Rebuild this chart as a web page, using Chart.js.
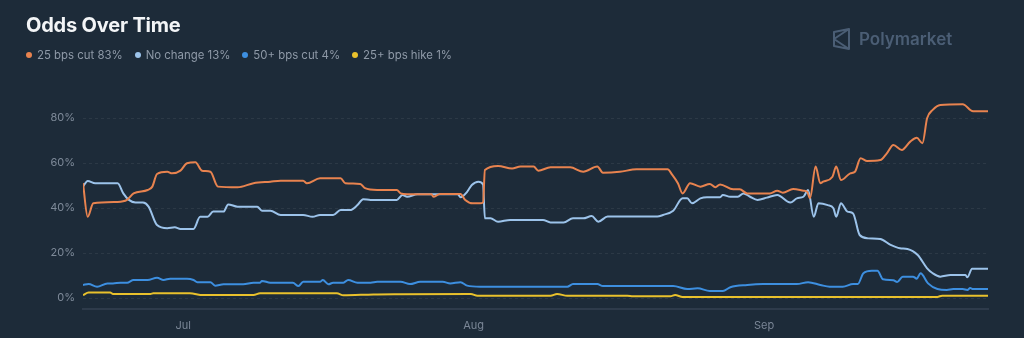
<!DOCTYPE html>
<html>
<head>
<meta charset="utf-8">
<script src="https://cdn.jsdelivr.net/npm/chart.js@4.4.1/dist/chart.umd.min.js"></script>
<style>
  body { margin: 0; background: #1d2b39; }
  #wrap { position: relative; width: 1024px; height: 338px; overflow: hidden; font-family: Inter, "Noto Sans", sans-serif; }
  #oddsChart { position: absolute; left: 0; top: 0; }
  .title { position: absolute; left: 26px; top: 15px; font-size: 20px; line-height: 1; font-weight: 700; color: #f3f5f7; letter-spacing: -0.2px; }
  .legend { position: absolute; left: 26px; top: 49px; display: flex; font-size: 11.4px; line-height: 12px; color: #8e99a7; }
  .legend span.item { display: flex; align-items: center; margin-right: 12px; }
  .legend i { display: inline-block; width: 6px; height: 6px; border-radius: 50%; margin-right: 5px; }
  .brand { position: absolute; left: 832px; top: 28px; display: flex; align-items: center; font-size: 17px; font-weight: 600; color: #4b5e75; }
  .brand svg { margin-right: 8px; }
</style>
</head>
<body>
<div id="wrap">
  <canvas id="oddsChart" width="1024" height="338"></canvas>
  <div class="title">Odds Over Time</div>
  <div class="legend" id="legend"></div>
  <div class="brand">
    <svg width="19" height="22" viewBox="0 0 19 22" fill="none" stroke="#4b5e75" stroke-width="2" stroke-linejoin="round">
      <path d="M2 4 L17 1 L17 21 L2 18 Z M17 1 L2 11 L17 21"/>
    </svg>Polymarket
  </div>
</div>
<script>
// days counted from Jul 1, values in percent
const cut25Days = [-10.7,-10.2,-9.6,-7.0,-6.0,-5.3,-3.8,-3.3,-2.8,-1.7,-1.2,-0.3,0.4,1.3,2.0,2.9,3.7,5.8,7.5,9.3,10.4,12.8,13.2,14.6,16.8,17.3,18.9,19.4,20.7,22.8,23.2,23.9,26.5,26.7,27.4,29.6,30.1,30.9,31.7,32.0,32.2,33.6,35.1,36.0,37.4,37.9,39.2,41.3,42.7,44.2,44.8,46.6,48.4,51.7,52.2,52.8,53.3,54.1,55.2,56.2,56.8,57.3,58.7,59.4,60.2,62.6,63.4,64.0,65.1,66.2,66.6,66.9,67.5,68.0,68.3,69.3,69.7,70.2,71.2,71.7,72.3,73.0,74.4,75.1,75.8,76.7,77.6,78.3,78.9,79.4,80.0,80.8,83.2,84.3,85.9];
const cut25 = [51.0,36.1,42.1,42.7,43.6,46.5,48.0,49.5,55.1,56.1,55.4,56.6,59.9,60.3,56.6,56.1,49.5,49.2,51.0,51.7,52.1,52.1,51.0,53.2,53.2,51.0,50.7,48.8,48.0,48.0,46.5,46.1,46.1,45.0,46.2,46.2,43.6,42.1,42.1,42.5,56.9,58.7,57.6,58.4,58.4,56.6,58.1,58.1,56.1,58.4,55.7,56.1,57.2,57.2,54.7,51.0,46.5,51.0,49.5,50.7,49.2,50.5,48.3,48.3,46.5,46.5,47.7,46.8,48.4,47.7,47.2,44.4,58.4,51.0,51.7,53.9,58.4,52.4,55.4,56.1,62.1,60.9,61.3,64.3,68.0,65.8,69.5,71.2,68.8,79.9,83.6,85.8,86.1,83.0,83.0];

const noChangeDays = [-10.7,-10.2,-9.4,-7.0,-6.4,-5.8,-5.1,-4.3,-3.7,-2.8,-1.7,-0.9,-0.3,1.1,1.8,2.6,3.2,4.3,4.8,5.8,7.9,8.4,9.3,10.4,12.8,13.8,14.6,16.0,16.8,17.8,18.6,19.2,20.0,22.8,23.4,23.9,25.0,29.3,29.6,30.3,30.8,31.5,32.0,32.2,32.8,33.6,34.9,38.4,39.2,40.6,41.6,42.7,43.6,44.3,45.3,50.6,51.2,52.3,53.3,53.8,54.3,55.2,55.9,57.3,57.6,58.4,59.2,59.8,60.5,61.3,62.3,63.4,64.8,65.5,66.2,66.7,67.3,67.8,68.8,69.4,69.7,70.2,70.9,71.5,72.2,73.1,74.4,75.5,76.5,77.3,78.4,79.4,80.0,80.8,81.9,83.5,83.7,84.2,85.9];
const noChange = [49.5,52.0,51.0,51.0,46.5,43.6,42.4,42.4,40.6,32.4,31.0,31.4,30.7,30.7,36.1,36.1,38.4,38.4,41.6,40.6,40.6,38.8,38.8,36.9,36.9,36.1,36.9,36.9,39.1,39.1,41.3,43.9,43.6,43.6,45.8,45.0,46.1,46.1,44.8,47.2,50.2,51.7,50.5,35.4,35.4,33.9,34.7,34.7,33.6,33.6,35.4,35.4,36.4,33.9,36.2,36.2,36.9,38.8,44.3,44.3,42.1,44.3,44.8,44.8,45.8,45.0,45.0,46.5,45.0,43.6,44.6,45.8,42.4,44.3,45.0,48.0,36.1,42.1,41.3,39.9,36.1,42.1,38.4,37.6,28.0,26.5,26.2,23.6,22.1,21.8,19.1,13.2,11.0,9.5,10.2,10.2,9.2,13.0,13.0];

const cut50Days = [-10.7,-10.1,-9.2,-8.1,-7.5,-6.7,-6.0,-5.3,-3.8,-2.8,-2.1,-1.4,0.4,1.1,1.5,2.9,3.4,4.3,6.4,7.5,8.2,8.4,9.3,11.7,12.3,12.8,14.6,14.9,15.5,16.0,17.1,17.6,18.6,20.0,20.7,23.2,24.2,25.3,27.7,28.5,29.6,30.3,31.7,41.0,41.6,44.2,44.8,52.3,53.8,54.9,56.2,57.6,58.4,60.2,61.9,65.5,66.7,68.0,69.0,70.4,71.5,72.0,72.6,73.5,74.1,74.7,75.8,76.2,76.8,77.9,78.3,78.7,79.5,80.5,81.5,82.2,83.2,83.7,84.0,84.3,85.9];
const cut50 = [5.8,6.2,5.0,6.5,6.5,6.8,6.8,8.0,8.0,9.0,8.0,8.6,8.6,8.0,7.0,7.0,5.5,6.1,6.1,6.8,6.8,7.6,6.8,6.8,5.3,7.2,7.2,8.0,6.1,6.8,6.8,8.0,6.8,6.8,7.2,7.2,6.2,7.2,7.2,6.5,7.0,5.5,5.0,5.0,6.2,6.2,5.3,5.3,4.0,4.3,3.1,3.1,4.8,5.8,6.2,6.2,7.0,5.8,5.0,5.0,6.2,6.2,11.0,12.1,12.1,8.3,7.9,7.1,9.5,9.5,8.6,11.0,6.5,4.0,3.6,4.0,4.0,3.6,4.4,4.0,4.0];

const hike25Days = [-10.7,-10.1,-7.8,-7.5,-3.5,-3.2,0.7,2.1,7.5,8.2,16.4,17.1,20.3,23.2,30.7,31.4,39.2,39.9,41.0,47.4,48.0,52.0,52.5,53.3,80.5,81.0,85.9];
const hike25 = [1.3,2.4,2.4,1.8,1.8,2.1,2.1,1.3,1.3,2.1,2.1,1.2,1.6,1.7,1.8,1.0,1.0,1.8,1.0,1.0,0.8,0.8,1.3,0.5,0.5,1.0,1.0];

const monthDays = [0, 31, 62];
const monthLabels = ['Jul', 'Aug', 'Sep'];
const yTicks = [0, 20, 40, 60, 80];

const series = [
  { name: '25 bps cut', days: cut25Days, values: cut25, color: '#e8834f' },
  { name: 'No change', days: noChangeDays, values: noChange, color: '#9cc3ea' },
  { name: '50+ bps cut', days: cut50Days, values: cut50, color: '#3d8fe0' },
  { name: '25+ bps hike', days: hike25Days, values: hike25, color: '#e9c12c' }
];

// legend row with the latest value of each outcome
const legendEl = document.getElementById('legend');
series.forEach(s => {
  const last = s.values[s.values.length - 1];
  const item = document.createElement('span');
  item.className = 'item';
  item.innerHTML = `<i style="background:${s.color}"></i>${s.name} ${Math.round(last)}%`;
  legendEl.appendChild(item);
});

const ctx = document.getElementById('oddsChart').getContext('2d');
new Chart(ctx, {
  type: 'line',
  data: {
    datasets: series.map(s => ({
      label: s.name,
      data: s.days.map((d, i) => ({ x: d, y: s.values[i] })),
      borderColor: s.color,
      borderWidth: 2,
      pointRadius: 0,
      cubicInterpolationMode: 'monotone',
      borderJoinStyle: 'round',
      fill: false
    }))
  },
  options: {
    responsive: false,
    animation: false,
    layout: { padding: { top: 95.5, right: 36, bottom: 0, left: 0 } },
    plugins: { legend: { display: false }, tooltip: { enabled: false } },
    scales: {
      x: {
        type: 'linear',
        min: -10.7,
        max: 85.9,
        afterBuildTicks: axis => { axis.ticks = monthDays.map(v => ({ value: v })); },
        afterFit: axis => { axis.height = 28.75; },
        ticks: {
          color: '#7a8696',
          font: { family: 'Inter', size: 11 },
          padding: 10,
          maxRotation: 0,
          callback: v => monthLabels[monthDays.indexOf(v)]
        },
        grid: { display: false, drawTicks: false },
        border: { display: true, color: '#2e3b4b', width: 2 }
      },
      y: {
        min: -5,
        max: 90,
        afterBuildTicks: axis => { axis.ticks = yTicks.map(v => ({ value: v })); },
        afterFit: axis => { axis.width = 83; },
        ticks: {
          color: '#7e8a99',
          font: { family: 'Inter', size: 11 },
          padding: 8,
          callback: v => v + '%'
        },
        grid: { color: 'rgba(255,255,255,0.07)', drawTicks: false },
        border: { display: false, dash: [3, 3] }
      }
    }
  }
});
</script>
</body>
</html>
